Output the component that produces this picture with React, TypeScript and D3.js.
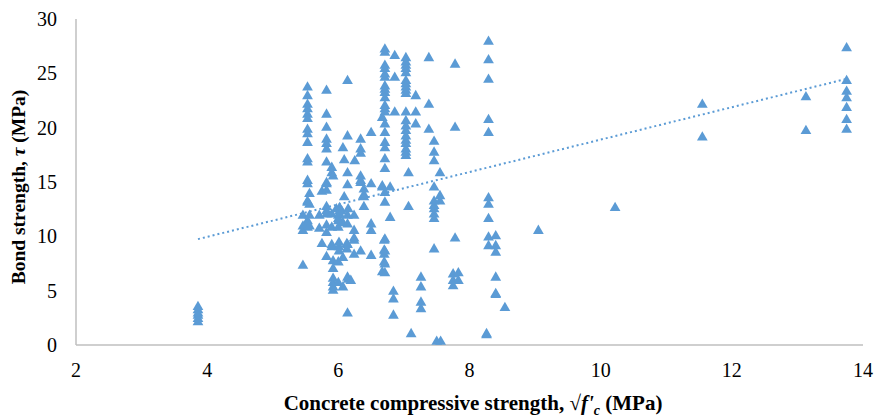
import React from "react";
import * as d3 from "d3";

// Column x positions (sqrt f'c, MPa) and bond strengths (MPa) at each
const colX = [
  3.86, 5.46, 5.53, 5.56, 5.71, 5.75, 5.82, 5.9, 5.92, 5.97, 6.0, 6.01, 6.02, 6.05,
  6.07, 6.09, 6.13, 6.14, 6.15, 6.19, 6.24, 6.25, 6.34, 6.39, 6.5, 6.67, 6.7, 6.71,
  6.79, 6.84, 6.86, 7.03, 7.07, 7.11, 7.18, 7.26, 7.38, 7.46, 7.5, 7.55, 7.56, 7.75,
  7.78, 7.83, 8.26, 8.29, 8.4, 8.54, 9.05, 10.22, 11.55, 13.13, 13.75,
];

const colValues: number[][] = [
  [2.2, 2.5, 2.8, 3.0, 3.3, 3.6],
  [7.4, 10.6, 11.0, 12.0],
  [23.8, 23.0, 22.2, 21.8, 21.3, 20.9, 19.9, 19.5, 18.7, 17.2, 16.9, 15.2, 14.9, 13.3, 13.2, 10.9, 11.2, 11.5],
  [14.0, 13.0, 12.0, 11.0],
  [12.0, 10.8],
  [14.2, 9.4],
  [23.5, 21.3, 20.1, 19.0, 18.6, 18.1, 16.9, 15.0, 14.3, 12.8, 12.4, 12.1, 11.1, 10.4, 8.2, 14.9],
  [16.4, 15.9, 12.1, 10.9, 9.1, 9.3],
  [15.6, 7.8, 7.1, 6.2, 5.8, 5.4, 5.1],
  [12.6],
  [12.0, 11.7, 10.9, 7.7, 5.8, 11.5],
  [9.5, 9.1, 8.7],
  [12.7, 12.1, 12.4],
  [12.4],
  [5.4, 8.1, 11.3, 18.2],
  [17.1, 13.7],
  [9.4, 8.9],
  [24.4, 19.3, 15.9, 14.8, 12.0, 9.3, 6.3, 3.0, 11.2],
  [12.6, 6.1],
  [6.0],
  [9.7, 8.4, 10.6, 9.9, 12.0],
  [17.0],
  [19.0, 18.1, 17.7, 15.6, 15.2, 15.0, 8.7],
  [14.4, 13.9, 12.8, 13.7],
  [19.6, 14.9, 11.2, 10.6, 8.3],
  [14.7, 14.6, 21.0, 6.8],
  [9.7, 8.8, 8.4, 7.7],
  [27.3, 27.0, 25.8, 25.5, 25.0, 24.7, 23.9, 23.6, 23.3, 22.8, 22.1, 21.8, 21.5, 20.4, 19.6, 18.7, 18.2, 17.2, 16.3, 14.1, 13.2, 9.8, 8.7, 7.5, 6.7],
  [14.6, 11.8],
  [5.0, 4.3, 2.8],
  [26.7, 24.7, 21.5],
  [26.5, 26.1, 25.8, 25.5, 25.1, 24.4, 24.1, 23.8, 23.5, 23.2, 21.5, 20.7, 20.2, 19.8, 19.3, 18.9, 18.6, 18.1, 17.8, 17.5],
  [15.9, 12.8],
  [1.1],
  [23.0, 21.5, 20.4],
  [6.3, 5.4, 4.0, 3.4],
  [26.5, 22.2, 19.9],
  [18.8, 17.8, 17.0, 14.6, 13.3, 12.6, 12.1, 11.7, 8.9, 12.9],
  [0.4],
  [15.9, 13.8, 13.3],
  [0.4],
  [6.6, 6.0, 5.5],
  [25.9, 20.1, 9.9],
  [6.7, 6.0],
  [1.1, 1.0],
  [28.0, 26.3, 24.5, 20.8, 19.6, 13.6, 13.0, 11.7, 10.0, 9.2],
  [10.1, 9.2, 8.6, 6.3, 4.8, 4.7],
  [3.5],
  [10.6],
  [12.7],
  [22.2, 19.2],
  [22.9, 19.8],
  [27.4, 24.4, 23.4, 22.8, 21.9, 20.8, 19.9],
];

const xTicks = [2, 4, 6, 8, 10, 12, 14];
const yTicks = [0, 5, 10, 15, 20, 25, 30];

// Linear trendline
const trendSlope = 1.491;
const trendIntercept = 3.99;
const trendRange = [3.86, 13.75];

const BLUE = "#5B9BD5";
const AXIS = "#BFBFBF";
const FONT = "'Liberation Serif', 'Times New Roman', serif";

export default function App() {
  const W = 876;
  const H = 417;
  const x = d3.scaleLinear().domain([2, 14]).range([76, 863]);
  const y = d3.scaleLinear().domain([0, 30]).range([345, 19]);

  const points: [number, number][] = [];
  colX.forEach((cx, i) => colValues[i].forEach((v) => points.push([cx, v])));

  const tri = d3.symbol().type(d3.symbolTriangle).size(50)();
  const line = d3
    .line<number>()
    .x((d) => x(d))
    .y((d) => y(trendIntercept + trendSlope * d));

  return (
    <svg
      width={W}
      height={H}
      style={{ position: "absolute", left: 0, top: 0, background: "#fff" }}
      fontFamily={FONT}
    >
      <rect width={W} height={H} fill="#fff" />
      {/* axes */}
      <line x1={x(2)} x2={x(2)} y1={y(30)} y2={y(0)} stroke={AXIS} strokeWidth={1.5} />
      <line x1={x(2)} x2={x(14)} y1={y(0)} y2={y(0)} stroke={AXIS} strokeWidth={1.5} />
      {yTicks.map((t) => (
        <text key={t} x={x(2) - 19} y={y(t)} dy="0.35em" textAnchor="end" fontSize={20} fill="#000">
          {t}
        </text>
      ))}
      {xTicks.map((t) => (
        <text key={t} x={x(t)} y={y(0) + 32} textAnchor="middle" fontSize={20} fill="#000">
          {t}
        </text>
      ))}
      {/* points */}
      {points.map(([px, pv], i) => (
        <path key={i} d={tri!} transform={`translate(${x(px)},${y(pv) + 1})`} fill={BLUE} />
      ))}
      {/* trendline */}
      <path
        d={line(trendRange)!}
        fill="none"
        stroke={BLUE}
        strokeWidth={2}
        strokeDasharray="2 3"
      />
      {/* axis titles */}
      <text
        transform={`translate(25,187) rotate(-90)`}
        textAnchor="middle"
        fontSize={19.5}
        fontWeight="bold"
        fill="#000"
      >
        Bond strength, <tspan fontStyle="italic">τ</tspan> (MPa)
      </text>
      <text x={473} y={410} textAnchor="middle" fontSize={21} fontWeight="bold" fill="#000">
        Concrete compressive strength, <tspan fontWeight="normal">√</tspan>
        <tspan fontStyle="italic">f'</tspan>
        <tspan fontStyle="italic" fontSize={14} dy={5}>c</tspan>
        <tspan dy={-5}> (MPa)</tspan>
      </text>
    </svg>
  );
}
